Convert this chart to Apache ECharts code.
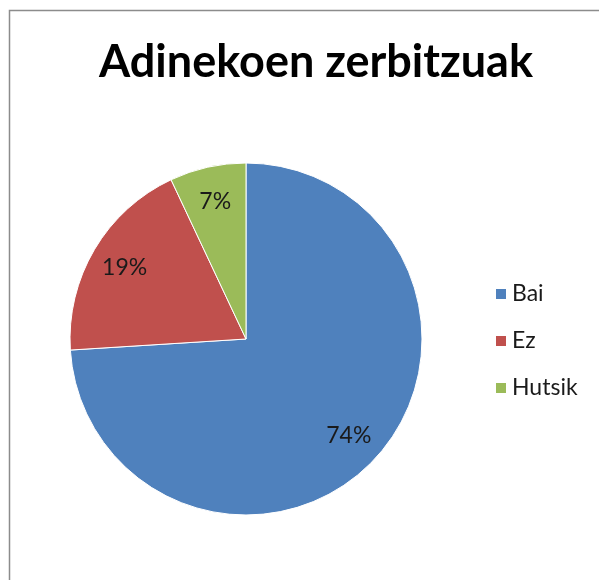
<!DOCTYPE html>
<html>
<head>
<meta charset="utf-8">
<script src="https://cdn.jsdelivr.net/npm/echarts@6/dist/echarts.min.js"></script>
<style>
  html, body { margin: 0; padding: 0; background: #fff; }
  #chart { width: 599px; height: 580px; }
</style>
</head>
<body>
<div id="chart"></div>
<script>
'use strict';

const categories = ['Bai', 'Ez', 'Hutsik'];
const shares = [74, 19, 7];
const colors = ['#4F81BD', '#C0504D', '#9BBB59'];

const font = 'Lato, "Open Sans", sans-serif';
const data = categories.map((name, i) => ({ name, value: shares[i] }));

const chart = echarts.init(document.getElementById('chart'), null, { renderer: 'canvas' });
chart.setOption({
    animation: false,
    color: colors,
    graphic: [{
        type: 'rect',
        shape: { x: 9.5, y: 10.5, width: 620, height: 600 },
        style: { fill: 'none', stroke: '#8c8c8c', lineWidth: 1.5 },
        silent: true
    }],
    title: {
        text: 'Adinekoen zerbitzuak',
        left: 311,
        top: 35,
        textAlign: 'center',
        textStyle: { fontFamily: font, fontSize: 45, fontWeight: 'bold', color: '#000' }
    },
    legend: {
        orient: 'vertical',
        left: 489,
        top: 276,
        icon: 'rect',
        itemWidth: 12,
        itemHeight: 12,
        itemGap: 21,
        data: categories,
        selectedMode: false,
        textStyle: { fontFamily: font, fontSize: 23, color: '#1a1a1a', lineHeight: 26 }
    },
    series: [{
        type: 'pie',
        center: [246, 339],
        radius: [0, 176],
        startAngle: 90,
        clockwise: true,
        data,
        label: { show: false },
        labelLine: { show: false },
        itemStyle: { borderColor: '#fff', borderWidth: 1 },
        emphasis: { disabled: true }
    }, {
        // transparent ring only to put the percent labels at ~0.79 r
        type: 'pie',
        center: [246, 339],
        radius: [100, 176],
        startAngle: 90,
        clockwise: true,
        silent: true,
        data,
        itemStyle: { color: 'rgba(0,0,0,0)' },
        label: {
            show: true,
            position: 'inside',
            formatter: '{d}%',
            fontFamily: font,
            fontSize: 23,
            color: '#1a1a1a'
        },
        labelLine: { show: false },
        emphasis: { disabled: true }
    }]
});
</script>
</body>
</html>
